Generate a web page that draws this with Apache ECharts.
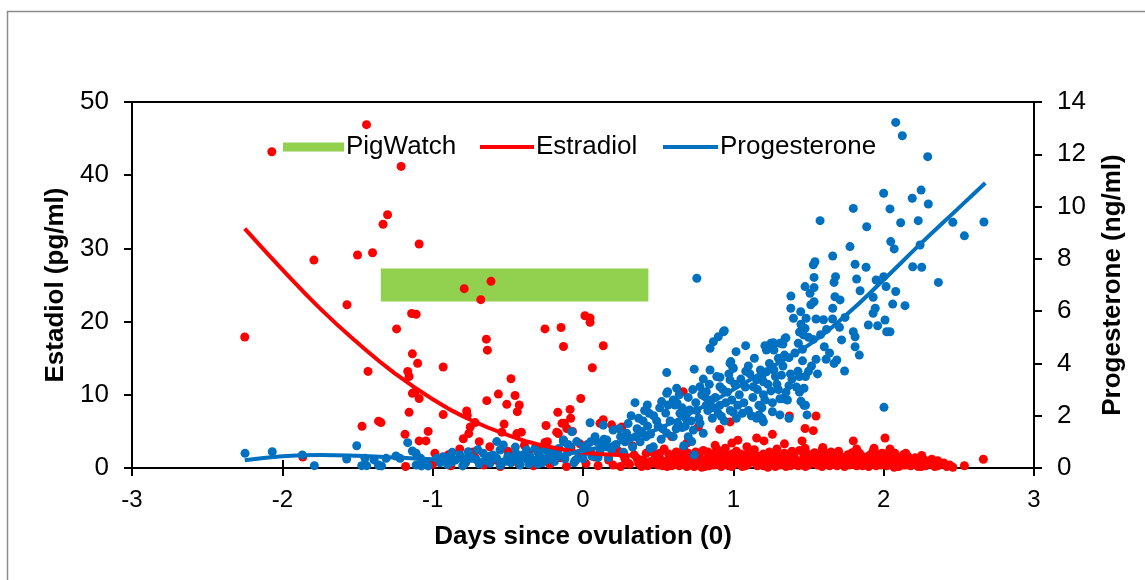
<!DOCTYPE html>
<html>
<head>
<meta charset="utf-8">
<script src="https://cdn.jsdelivr.net/npm/echarts@6/dist/echarts.min.js"></script>
<style>
html,body{margin:0;padding:0;background:#fff;}
#chart{width:1145px;height:580px;}
</style>
</head>
<body>
<div id="chart"></div>
<script>
// ---- data ----
const xTicks = [-3, -2, -1, 0, 1, 2, 3];
const estradiolTicks = [0, 10, 20, 30, 40, 50];
const progesteroneTicks = [0, 2, 4, 6, 8, 10, 12, 14];

// PigWatch window: [start day, end day], drawn at this estradiol level
const pigWatchDays = [-1.345, 0.435];
const pigWatchLevel = 25;

// Estradiol samples [day, pg/ml]
const estradiolPoints = [
[-2.25,17.9],[-2.07,43.2],[-1.79,28.4],[-1.57,22.3],[-1.50,29.1],[-1.44,46.9],[-1.43,13.2],[-1.40,29.4],[-1.47,5.7],[-1.36,6.4],
[-1.21,41.2],[-1.33,33.3],[-1.30,34.6],[-1.09,30.6],[-1.14,21.1],[-1.11,21.0],[-1.24,19.0],[-1.135,15.6],[-1.10,14.3],[-1.166,13.2],
[-1.157,12.5],[-1.135,10.2],[-1.117,10.4],[-1.09,9.5],[-1.157,7.6],[-0.93,13.8],[-0.93,7.3],[-1.344,6.2],[-1.09,3.7],[-1.045,3.7],
[-1.03,5.0],[-1.184,4.6],[-0.79,24.5],[-0.612,25.5],[-0.68,23.0],[-0.643,17.6],[-0.636,16.1],[-0.774,7.8],[-0.77,7.2],[-0.75,5.6],
[-0.76,4.7],[-0.718,6.2],[-0.479,12.2],[-0.563,10.1],[-0.452,9.9],[-0.64,9.2],[-0.507,8.7],[-0.424,8.6],[-0.437,7.7],[-0.525,6.0],
[-0.54,4.9],[-0.44,4.7],[-0.41,4.9],[-0.253,19.0],[-0.146,19.2],[-0.13,16.6],[0.013,20.8],[0.047,20.5],[0.047,19.9],[0.135,16.7],
[0.062,13.7],[-0.015,9.5],[-0.086,8.0],[-0.168,7.6],[-0.082,6.8],[-0.14,6.1],[-0.253,3.5],[-0.175,4.9],[-0.108,5.4],[0.667,10.4],
[0.91,5.3],[0.978,6.3],[0.767,5.6],[-0.796,4.0],[-0.69,3.6],[-0.73,2.2],[-0.985,2.0],[-0.896,1.8],[-1.18,0.2],[-1.864,1.5],
[-0.246,5.8],[-0.124,6.1],[-0.07,5.0],[-0.164,4.7],[0.113,6.1],[-0.237,3.6],[-0.13,3.8],[1.55,7.1],[1.373,7.1],[1.477,5.4],
[1.532,5.1],[1.26,4.6],[2.009,4.1],[1.798,3.7],[1.457,3.7],[1.34,3.3],[1.155,4.1],[1.204,3.7],[1.03,3.8],[0.99,3.4],
[2.663,1.2],[2.537,0.3],[2.46,0.1],[2.36,1.0],[2.253,1.7],[2.075,2.0],[2.147,2.0],[1.936,2.7],[2.042,2.6],[1.82,2.6],
[1.595,2.8],[1.477,2.7],[1.09,2.9],[0.879,3.1],[0.946,2.7],[0.69,3.4],[0.59,4.3],[0.135,6.6],[0.19,5.9],[0.258,5.6],
[-1.0,0.5],[-0.95,1.2],[-0.88,0.3],[-0.82,2.6],[-0.78,0.8],[-0.72,1.5],[-0.66,0.4],[-0.62,2.9],[-0.58,1.1],[-0.55,0.2],
[-0.5,2.3],[-0.47,1.6],[-0.43,0.6],[-0.39,3.1],[-0.36,1.9],[-0.33,0.3],[-0.3,2.6],[-0.27,1.2],[-0.22,0.5],[-0.19,2.1],
[-0.15,1.4],[-0.11,0.2],[-0.08,2.8],[-0.05,1.0],[-0.02,3.3],[0.02,0.6],[0.05,2.2],[0.08,1.5],[0.1,0.3],[0.14,2.9],
[0.17,1.1],[0.2,0.4],[0.23,2.4],[0.27,1.7],[0.3,0.7],[0.33,3.0],[0.36,1.3],[0.39,0.2],[0.42,2.0],[0.45,0.9],
[0.48,1.8],[0.5,0.4],[0.52,1.1],[0.54,2.6],[0.56,0.2],[0.58,1.5],[0.6,0.8],[0.62,2.2],[0.64,0.3],[0.66,1.3],
[0.68,0.6],[0.7,2.0],[0.72,1.0],[0.74,0.2],[0.76,1.7],[0.78,0.5],[0.8,2.4],[0.82,1.2],[0.84,0.3],[0.86,1.9],
[0.88,0.7],[0.9,1.4],[0.92,0.2],[0.94,2.1],[0.96,0.9],[0.98,1.6],[1.0,0.4],[1.02,2.3],[1.04,1.1],[1.06,0.2],
[1.08,1.8],[1.1,0.6],[1.12,1.3],[1.14,2.5],[1.16,0.3],[1.18,1.0],[1.2,1.9],[1.22,0.5],[1.24,2.2],[1.26,0.9],
[1.28,0.2],[1.3,1.6],[1.32,0.7],[1.34,2.0],[1.36,1.2],[1.38,0.3],[1.4,1.7],[1.42,0.6],[1.44,2.4],[1.46,1.0],
[1.48,0.2],[1.5,1.5],[1.52,0.8],[1.54,2.1],[1.56,0.4],[1.58,1.3],[1.6,0.9],[1.62,2.0],[1.64,0.3],[1.66,1.6],
[1.68,0.7],[1.7,2.3],[1.72,1.1],[1.74,0.2],[1.76,1.8],[1.78,0.6],[1.8,1.4],[1.82,0.3],[1.84,2.0],[1.86,0.9],
[1.88,1.5],[1.9,0.2],[1.92,1.2],[1.94,0.5],[1.96,1.9],[1.98,0.8],[2.0,1.3],[2.02,0.3],[2.04,1.7],[2.06,0.6],
[2.08,1.1],[2.1,0.2],[2.12,1.5],[2.14,0.7],[2.16,1.2],[2.18,0.3],[2.2,0.9],[2.22,0.5],[2.25,0.8],[2.28,0.3],
[2.31,0.6],[2.34,0.2],[2.38,0.5],[2.42,0.2],
[0.47,0.7],[0.51,2.0],[0.55,0.9],[0.59,0.3],[0.63,1.6],[0.67,2.7],[0.71,0.4],[0.75,1.2],[0.79,0.1],[0.83,2.2],
[0.87,1.0],[0.91,0.5],[0.95,1.8],[0.99,0.2],[1.03,1.4],[1.07,0.8],[1.11,2.1],[1.15,0.6],[1.19,1.5],[1.23,0.1],
[1.27,1.9],[1.31,0.4],[1.35,1.1],[1.39,2.3],[1.43,0.3],[1.47,1.4],[1.51,0.6],[1.55,1.9],[1.59,0.2],[1.63,1.2],
[1.67,0.5],[1.71,1.6],[1.75,0.9],[1.79,2.1],[1.83,0.4],[1.87,1.1],[1.91,1.8],[1.95,0.3],[1.99,2.0],[2.03,0.9],
[2.07,0.1],[2.11,1.3],[2.15,0.4],[2.19,1.0],[2.23,0.2],[2.27,1.1],[2.33,0.4],
[0.49,1.2],[0.53,0.3],[0.57,1.9],[0.61,0.5],[0.65,1.0],[0.69,0.2],[0.73,1.5],[0.77,2.0],[0.81,0.6],[0.85,1.1],
[0.89,2.6],[0.93,0.9],[0.97,0.3],[1.01,1.2],[1.05,1.9],[1.09,0.4],[1.13,1.0],[1.17,1.6],[1.21,0.7],[1.25,1.3],
[1.29,2.6],[1.33,0.5],[1.37,1.8],[1.41,0.9],[1.45,0.4],[1.49,2.0],[1.53,1.2],[1.57,0.7],[1.61,1.5],[1.65,2.2],
[1.69,0.3],[1.73,1.3],[1.77,0.4],[1.81,1.0],[1.85,1.6],[1.89,0.6],[1.93,2.3],[1.97,1.4],[2.01,0.5],[2.05,1.4],
[2.09,0.8],[2.13,1.8],[2.17,0.6],[2.21,1.4],[2.26,0.5],[2.3,0.9],
[0.25,0.2],[0.28,1.2],[0.31,0.5],[0.34,1.8],[0.37,0.6],[0.4,1.1],[0.43,0.3],[0.46,2.2],[0.5,1.4],[0.53,0.7],
[0.57,1.0],[0.6,1.7],[0.63,0.5],[0.66,1.9],[0.69,1.1],[0.72,0.4],[0.75,2.2],[0.78,1.3],[0.81,0.2],[0.84,1.5],
[0.87,0.4],[0.9,2.0],[0.93,1.2],[0.96,0.5],[0.99,1.9],[1.02,0.7],[1.05,1.4],[1.08,0.3],[1.11,1.1],[1.14,1.7],
[1.17,0.8],[1.2,0.3],[1.23,1.5],[1.26,1.9],[1.29,0.6],[1.32,1.2],[1.35,0.2],[1.38,2.0],[1.41,1.3],[1.44,0.8],
[1.47,1.7],[1.5,0.4],[1.53,1.5],[1.56,1.0],[1.59,2.4],[1.62,0.6],[1.65,1.0],[1.68,1.9],[1.71,0.5],[1.74,1.4],
[1.77,1.0],[1.8,0.5],[1.83,1.7],[1.86,0.3],[1.89,1.2],[1.92,0.8],[1.95,1.4],[1.98,0.4],[2.01,1.9],[2.04,0.5],
[2.07,1.5],[2.1,0.9],[2.13,0.4],[2.16,1.6],[2.19,0.5],[2.22,1.1],[2.25,0.2],[2.29,0.7],[2.32,1.2],[2.36,0.3],
[2.4,0.7],[2.44,0.4]
];

// Progesterone samples [day, ng/ml]
const progesteronePoints = [
[-2.248,0.56],[-2.067,0.62],[-1.867,0.5],[-1.787,0.09],[-1.572,0.34],[-1.505,0.85],[-1.472,0.09],[-1.439,0.09],[-1.45,0.37],[-1.357,0.09],
[-1.39,0.31],[-1.36,0.11],[-1.34,0.08],[-1.31,0.37],[-1.244,0.46],[-1.217,0.37],[-1.166,0.97],[-1.135,0.65],[-1.11,0.56],[-1.08,0.37],
[-1.045,0.24],[-1.03,0.08],[-1.11,0.11],[-1.075,0.08],[-0.973,0.37],[-0.93,0.43],[-0.884,0.43],[-0.873,0.24],[-0.818,0.5],[-0.785,0.18],
[-0.763,0.62],[-0.707,0.31],[-0.663,0.56],[-0.619,0.18],[-0.574,1.01],[-0.574,0.37],[-0.552,0.69],[-0.53,0.88],[-0.474,0.31],[-0.446,0.56],
[-0.419,0.11],[-0.375,0.69],[-0.352,0.43],[-0.319,0.75],[-0.286,0.43],[-0.242,0.31],[-0.208,0.62],[-0.164,0.5],[-0.13,1.01],[-0.075,1.39],
[-0.042,1.01],[0.002,0.81],[0.047,1.73],[0.091,1.01],[0.135,1.64],[0.158,0.81],
[-0.9,0.12],[-0.85,0.3],[-0.8,0.08],[-0.74,0.4],[-0.69,0.15],[-0.65,0.3],[-0.6,0.5],[-0.55,0.1],[-0.5,0.45],[-0.48,0.2],
[-0.43,0.3],[-0.4,0.5],[-0.36,0.15],[-0.33,0.3],[-0.3,0.6],[-0.27,0.2],[-0.23,0.45],[-0.19,0.25],[-0.16,0.75],[-0.12,0.35],
[-0.1,0.6],[-0.06,0.2],[-0.03,0.55],[0.0,0.35],[0.03,0.9],[0.06,0.45],[0.08,1.2],[0.11,0.6],[0.14,1.1],[0.17,0.4],
[0.2,1.45],[0.158,1.07],[0.22,0.9],[0.25,1.2],[0.27,0.6],[0.29,1.33],[0.313,1.14],[0.33,0.8],[0.36,1.5],[0.38,1.0],
[0.4,1.8],[0.42,1.2],[0.446,0.75],[0.468,0.81],[0.5,1.6],[0.52,1.1],[0.346,2.5],[0.428,2.41],[0.44,2.09],[-0.13,1.07],[-0.086,0.81],
[0.557,3.65],[0.74,3.78],[0.845,3.75],[1.018,4.45],[0.978,4.0],[1.0,3.81],[0.911,3.47],[0.911,3.11],[0.978,3.37],[0.778,3.11],
[0.82,2.92],[0.81,2.73],[0.623,3.05],[0.563,2.92],[0.557,2.86],[0.523,2.54],[0.612,2.41],[0.645,2.09],[0.69,2.09],[0.723,1.01],
[0.734,1.45],[0.778,1.71],[0.8,1.33],[0.566,2.41],[0.626,2.48],[0.652,2.09],[0.63,1.71],[0.557,1.33],[0.6,1.2],[0.684,1.9],
[0.66,1.55],[0.71,2.22],[0.757,2.2],[0.9,2.09],[0.92,1.98],[0.98,2.2],[1.03,2.4],[1.0,2.13],[1.06,2.09],[1.12,2.0],
[1.155,1.9],[0.82,2.4],[0.85,2.6],[0.87,2.3],[0.95,2.5],[0.74,0.5],[0.7,1.2],[0.67,0.85],[0.845,4.58],[0.867,4.83],
[0.9,5.02],[0.934,5.21],[0.94,5.25],[0.757,7.26],[0.983,4.07],[0.996,3.85],[1.082,4.68],[1.1,3.9],[1.083,3.7],
[1.18,3.75],[1.22,3.68],[1.27,3.75],[1.155,3.37],[1.2,3.3],[1.133,3.11],[1.2,2.8],[1.25,2.95],[1.29,3.2],[1.31,2.65],
[1.33,2.65],[1.36,2.6],[1.42,3.1],[1.47,3.05],[1.45,2.55],[1.47,2.4],[1.48,2.4],[1.19,2.3],[1.19,1.9],[1.2,1.77],
[1.17,2.03],[1.26,2.15],[1.31,2.03],[1.37,1.9],[1.49,2.03],[1.34,4.32],[1.3,4.2],[1.37,4.22],[1.32,3.55],[1.39,3.4],
[1.44,3.5],[1.37,3.15],[1.43,3.7],[1.27,4.51],[1.22,4.51],[1.25,4.77],[1.21,4.68],[1.266,4.79],[1.33,4.74],[1.35,4.98],
[1.266,4.7],[1.31,4.77],[1.432,4.77],[1.46,4.54],[1.55,4.16],[1.617,4.16],[1.67,4.0],[1.688,4.13],[1.74,3.71],[1.52,3.9],
[1.50,3.7],[1.56,3.6],[1.48,3.5],
[2.08,13.22],[2.124,12.71],[2.293,11.91],[2.0,10.51],[2.249,10.63],[2.19,10.32],[2.297,10.1],[1.798,9.93],[2.042,9.91],[1.577,9.46],
[2.113,9.38],[2.23,9.46],[1.887,9.23],[2.46,9.4],[2.667,9.41],[2.537,8.88],[1.776,8.47],[2.047,8.66],[2.07,8.38],[2.242,8.53],
[1.661,8.11],[1.543,7.89],[1.532,7.77],[1.81,7.79],[1.883,7.68],[2.193,7.7],[2.253,7.68],[1.537,7.29],[1.68,7.32],[1.67,7.1],
[1.82,7.23],[1.95,7.19],[2.0,7.32],[2.364,7.1],[1.477,6.94],[1.537,6.9],[1.51,6.68],[1.843,6.78],[2.016,6.94],[2.08,6.75],
[1.383,6.58],[1.676,6.55],[1.71,6.43],[1.93,6.53],[1.382,6.11],[1.515,6.24],[1.537,6.36],[1.448,5.98],[1.661,6.11],[1.944,6.11],
[1.93,5.92],[2.06,6.27],[2.142,6.21],[1.4,5.73],[1.484,5.73],[1.55,5.7],[1.6,5.67],[1.66,5.7],[1.743,5.76],[1.898,5.47],
[1.96,5.44],[2.009,5.66],[2.02,5.21],[2.042,5.21],[1.798,5.21],[1.81,5.02],[1.706,5.38],[1.477,5.34],[1.466,5.09],[1.532,4.92],
[1.344,4.96],[1.605,4.64],[1.81,4.64],[1.838,4.32],[2.002,2.32],[1.45,5.5],[1.44,5.2],[1.5,5.0],[1.58,5.1],[1.62,5.3],
[1.72,4.9],[1.64,4.4],
[0.3,1.7],[0.32,2.0],[0.35,1.2],[0.37,1.9],[0.39,1.4],[0.41,2.2],[0.43,1.6],[0.45,1.3],[0.47,2.0],[0.49,1.8],
[0.51,2.3],[0.53,1.5],[0.55,2.1],[0.58,1.8],[0.6,2.6],[0.62,1.5],[0.64,2.8],[0.66,2.3],[0.68,1.6],[0.7,2.7],
[0.72,1.8],[0.73,3.0],[0.75,2.5],[0.77,1.9],[0.79,2.8],[0.8,3.4],[0.83,2.2],[0.84,3.2],[0.86,1.9],[0.88,2.7],
[0.89,3.5],[0.91,2.4],[0.93,3.0],[0.94,1.8],[0.96,2.9],[0.97,3.6],[0.99,2.6],[1.01,3.2],[1.02,1.9],[1.04,2.8],
[1.05,3.4],[1.07,2.5],[1.08,3.1],[1.1,2.2],[1.11,3.6],[1.13,2.7],[1.14,4.2],[1.16,3.0],[1.17,2.4],[1.19,3.5],
[1.21,2.6],[1.23,3.2],[1.24,4.0],[1.26,2.5],[1.28,3.5],[1.3,3.0],[1.33,3.9],[1.35,2.9],[1.38,3.6],[1.41,4.4],
[1.44,2.9],[1.46,4.1],[-0.95,0.2],[-0.87,0.6],[-0.78,0.35],[-0.7,0.7],[-0.62,0.45],[-0.52,0.25],[-0.45,0.8],[-0.38,0.35],
[-0.3,0.15],[-0.25,0.7],[-0.18,0.4],[-0.1,0.9],[-0.05,0.3],[0.01,0.6],[0.05,1.0],[0.1,0.4],[0.13,0.8],[0.19,0.7],
[0.24,1.5],[0.28,1.0]
];

// Trend lines
const estradiolTrend = [
[-2.25,32.7],[-2.0,27.1],[-1.75,21.8],[-1.5,17.1],[-1.25,12.9],[-1.0,9.4],[-0.75,6.6],[-0.5,4.5],[-0.25,3.0],[0.0,2.1],[0.2,1.8],[0.32,1.7]
];
const progesteroneTrend = [
[-2.25,0.3],[-2.0,0.45],[-1.75,0.5],[-1.5,0.47],[-1.25,0.4],[-1.0,0.33],[-0.75,0.28],[-0.5,0.3],[-0.25,0.42],[0.0,0.65],
[0.25,1.0],[0.5,1.5],[0.75,2.2],[1.0,3.0],[1.25,3.85],[1.5,4.7],[1.75,5.85],[2.0,7.2],[2.25,8.6],[2.5,9.95],[2.676,10.9]
];

// ---- chart ----
const RED = '#FF0000', BLUE = '#0070C0', GREEN = '#92D050';
const FONT = '"Liberation Sans", Arial, sans-serif';
const chart = echarts.init(document.getElementById('chart'), null, {renderer: 'canvas'});

const baseX = {
  type: 'value', min: xTicks[0], max: xTicks[xTicks.length - 1], interval: 1, gridIndex: 0
};

const LEGEND_TOP = 134;
function legendFor(name, left, w, h) {
  return {
    data: [{name: name, icon: 'rect'}], left: left, top: LEGEND_TOP,
    padding: 0, itemWidth: w, itemHeight: h, itemGap: 0, selectedMode: false,
    textStyle: {fontFamily: FONT, fontSize: 26, color: '#000', padding: [0, 0, 0, -3]}
  };
}

chart.setOption({
  animation: false,
  backgroundColor: '#fff',
  textStyle: {fontFamily: FONT},
  graphic: [{
    type: 'rect', shape: {x: 7.5, y: 11.5, width: 1300, height: 700},
    style: {fill: 'none', stroke: '#8c8c8c', lineWidth: 1.5}, silent: true, z: -10
  }],
  grid: {left: 132, right: 111, top: 102, bottom: 112, containLabel: false},
  legend: [
    legendFor('PigWatch', 283, 61, 9),
    legendFor('Estradiol', 480, 54, 4),
    legendFor('Progesterone', 663, 55, 4)
  ],
  xAxis: [
    Object.assign({}, baseX, {
      position: 'bottom',
      name: 'Days since ovulation (0)', nameLocation: 'middle', nameGap: 56,
      nameTextStyle: {fontFamily: FONT, fontSize: 26, fontWeight: 'bold', color: '#000'},
      axisLine: {show: true, onZero: false, lineStyle: {color: '#000', width: 2}},
      axisTick: {show: true, inside: false, length: 8, lineStyle: {color: '#000', width: 2}},
      axisLabel: {fontFamily: FONT, fontSize: 24, color: '#000', margin: 20,
        formatter: v => String(v)},
      splitLine: {show: false}
    }),
    Object.assign({}, baseX, {
      position: 'bottom',
      axisLine: {show: false, onZero: false},
      axisTick: {show: true, inside: true, length: 8, lineStyle: {color: '#000', width: 2}},
      axisLabel: {show: false}, splitLine: {show: false}
    }),
    Object.assign({}, baseX, {
      position: 'top',
      axisLine: {show: true, onZero: false, lineStyle: {color: '#000', width: 2}},
      axisTick: {show: false}, axisLabel: {show: false}, splitLine: {show: false}
    })
  ],
  yAxis: [
    {
      type: 'value', position: 'left', min: estradiolTicks[0], max: estradiolTicks[estradiolTicks.length - 1], interval: 10,
      name: 'Estadiol (pg/ml)', nameLocation: 'middle', nameGap: 61, nameRotate: 90,
      nameTextStyle: {fontFamily: FONT, fontSize: 26, fontWeight: 'bold', color: '#000'},
      axisLine: {show: true, onZero: false, lineStyle: {color: '#000', width: 2}},
      axisTick: {show: true, inside: false, length: 8, lineStyle: {color: '#000', width: 2}},
      axisLabel: {fontFamily: FONT, fontSize: 26, color: '#000', margin: 23},
      splitLine: {show: false}
    },
    {
      type: 'value', position: 'right', min: progesteroneTicks[0], max: progesteroneTicks[progesteroneTicks.length - 1], interval: 2,
      name: 'Progesterone (ng/ml)', nameLocation: 'middle', nameGap: 66, nameRotate: 90,
      nameTextStyle: {fontFamily: FONT, fontSize: 26, fontWeight: 'bold', color: '#000'},
      axisLine: {show: true, onZero: false, lineStyle: {color: '#000', width: 2}},
      axisTick: {show: true, inside: false, length: 8, lineStyle: {color: '#000', width: 2}},
      axisLabel: {fontFamily: FONT, fontSize: 26, color: '#000', margin: 23},
      splitLine: {show: false}
    }
  ],
  series: [
    {
      name: 'PigWatch', type: 'line', xAxisIndex: 0, yAxisIndex: 0, z: 1,
      data: [[pigWatchDays[0], pigWatchLevel], [pigWatchDays[1], pigWatchLevel]],
      symbol: 'none', color: GREEN, itemStyle: {color: GREEN},
      lineStyle: {color: GREEN, width: 33, cap: 'butt'}, silent: true
    },
    {
      name: 'Estradiol samples', type: 'scatter', xAxisIndex: 0, yAxisIndex: 0, z: 2,
      data: estradiolPoints, symbol: 'circle', symbolSize: 9,
      itemStyle: {color: RED, opacity: 1}, silent: true
    },
    {
      name: 'Progesterone samples', type: 'scatter', xAxisIndex: 0, yAxisIndex: 1, z: 3,
      data: progesteronePoints, symbol: 'circle', symbolSize: 9,
      itemStyle: {color: BLUE, opacity: 1}, silent: true
    },
    {
      name: 'Estradiol', type: 'line', xAxisIndex: 0, yAxisIndex: 0, z: 4,
      data: estradiolTrend, smooth: true, symbol: 'none', color: RED, itemStyle: {color: RED},
      lineStyle: {color: RED, width: 4}, silent: true
    },
    {
      name: 'Progesterone', type: 'line', xAxisIndex: 0, yAxisIndex: 1, z: 5,
      data: progesteroneTrend, smooth: true, symbol: 'none', color: BLUE, itemStyle: {color: BLUE},
      lineStyle: {color: BLUE, width: 4}, silent: true
    }
  ]
});
</script>
</body>
</html>
